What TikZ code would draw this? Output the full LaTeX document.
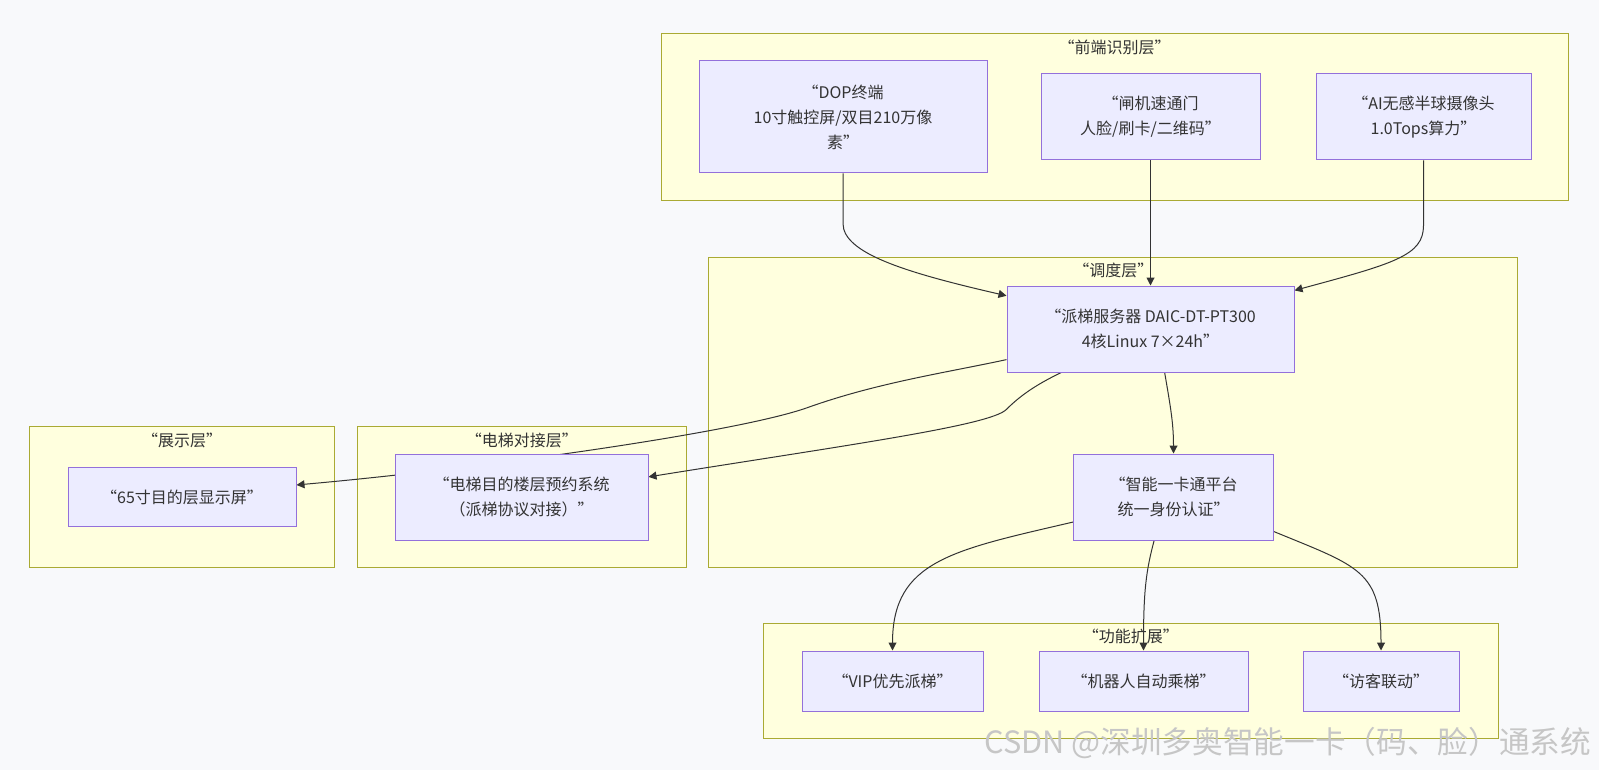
\documentclass[tikz,border=0pt]{standalone}
\usepackage{fontspec}
\setmainfont{Noto Sans CJK SC}
\usetikzlibrary{arrows.meta, positioning}
\definecolor{unitfill}{HTML}{ECECFF}
\definecolor{unitdraw}{HTML}{9370DB}
\definecolor{layerfill}{HTML}{FFFFDE}
\definecolor{layerdraw}{HTML}{AAAA33}
\definecolor{edgecol}{HTML}{333333}
\definecolor{pagebg}{HTML}{F8F9FB}
\pgfdeclarelayer{background}
\pgfdeclarelayer{edges}
\pgfsetlayers{background,edges,main}
\tikzset{
	boxnode/.style = {rectangle, text centered, align=center, inner sep=0pt, text=edgecol, font=\fontsize{12}{18.75}\selectfont},
	unit/.style = {boxnode, draw=unitdraw, fill=unitfill, line width=0.75pt},
	layer/.style = {boxnode, draw=layerdraw, fill=layerfill, line width=0.75pt},
	layertitle/.style = {boxnode},
	line/.style = {draw=edgecol, line width=0.75pt, -{Triangle[length=6pt, width=6pt]}}
}

\begin{document}
\begin{tikzpicture}[x=0.75pt, y=-0.75pt]
				\useasboundingbox (0,0) rectangle (1599,770);

				% Define the layers
				\begin{pgfonlayer}{background}
				\fill [pagebg] (0,0) rectangle (1599,770);
				\node (front) [layer, minimum width=680.25pt, minimum height=125.25pt] at (1114.5,117.5) {};
				\node (dispatch) [layer, minimum width=606.4pt, minimum height=233pt] at (1113.25,412.35) {};
				\node (display) [layer, minimum width=228.75pt, minimum height=105.75pt] at (182,497.2) {};
				\node (elevlayer) [layer, minimum width=247.1pt, minimum height=105.75pt] at (521.75,497.2) {};
				\node (extend) [layer, minimum width=550.7pt, minimum height=86.25pt] at (1130.85,680.8) {};
				\end{pgfonlayer}
				\node (fronttitle) [layertitle, below=4.5pt of front.north] {“前端识别层”};
				\node (dispatchtitle) [layertitle, below=4.5pt of dispatch.north] {“调度层”};
				\node (displaytitle) [layertitle, below=4.5pt of display.north] {“展示层”};
				\node (elevlayertitle) [layertitle, below=4.5pt of elevlayer.north] {“电梯对接层”};
				\node (extendtitle) [layertitle, below=4.5pt of extend.north] {“功能扩展”};

				% Define the units
				\node (dop) [unit, minimum width=216pt, minimum height=84pt] at (843,117) {“DOP终端\\10寸触控屏/双目210万像\\素”};
				\node (gate) [unit, minimum width=164.25pt, minimum height=64.5pt] at (1150.5,117) {“闸机速通门\\人脸/刷卡/二维码”};
				\node (cam) [unit, minimum width=161.25pt, minimum height=64.5pt] at (1423.5,117) {“AI无感半球摄像头\\1.0Tops算力”};
				\node (server) [unit, minimum width=215.25pt, minimum height=64.5pt, below=93.75pt of gate] {“派梯服务器 DAIC-DT-PT300\\4核Linux 7×24h”};
				\node (platform) [unit, minimum width=150pt, minimum height=64.5pt] at (1173.5,497) {“智能一卡通平台\\统一身份认证”};
				\node (screen) [unit, minimum width=171pt, minimum height=44.25pt] at (182,497) {“65寸目的层显示屏”};
				\node (elev) [unit, minimum width=189.75pt, minimum height=64.5pt] at (521.5,497) {“电梯目的楼层预约系统\\（派梯协议对接）”};
				\node (vip) [unit, minimum width=135.75pt, minimum height=45pt] at (892.5,681) {“VIP优先派梯”};
				\node (robot) [unit, minimum width=156.75pt, minimum height=45pt] at (1143.5,681) {“机器人自动乘梯”};
				\node (visitor) [unit, minimum width=117pt, minimum height=45pt] at (1381,681) {“访客联动”};

				\node (mark) [anchor=east, text=gray!45, font=\fontsize{23}{23}\selectfont] at (1596,743) {CSDN @深圳多奥智能一卡（码、脸）通系统};

				% Define the links
				\begin{pgfonlayer}{edges}
				\path [line] (dop.south) -- ++(0,50) .. controls +(0,30) and +(-100,-23) .. (server.167);
				\path [line] (gate) -- (server);
				\path [line] (cam.south) -- ++(0,65) .. controls +(0,30) and +(100,-27) .. (server.15);
				\path [line] (server.192) .. controls +(-60,13) and +(70,-25) .. ++(-199,48)
					.. controls +(-70,25) and +(180,-16) .. (screen.6);
				\path [line] (server.206) .. controls +(-25,12) and +(14,-14) .. ++(-55,37)
					.. controls +(-16,16) and +(200,-32) .. (elev.9);
				\path [line] (server.288) .. controls +(6,35) and +(0,-30) .. (platform.north);
				\path [line] (platform.194) .. controls +(-120,28) and +(0,-90) .. (vip.north);
				\path [line] (platform.246) .. controls +(-8,30) and +(0,-60) .. (robot.north);
				\path [line] (platform.341) .. controls +(85,35) and +(0,-80) .. (visitor.north);
				\end{pgfonlayer}
\end{tikzpicture}
\end{document}
